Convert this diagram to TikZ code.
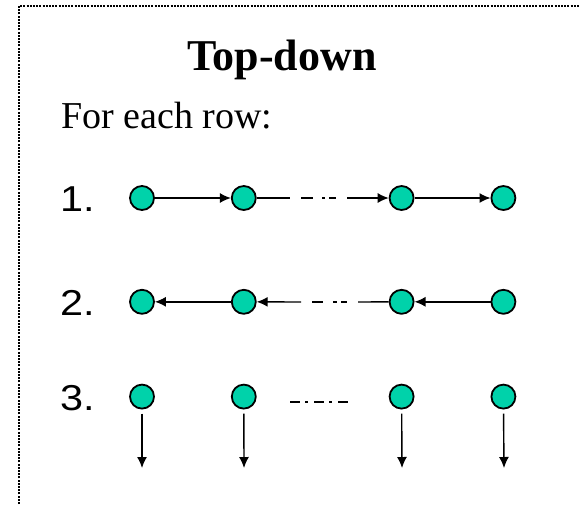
\documentclass[tikz,border=0pt]{standalone}
\usepackage{fontspec}
\setmainfont{Liberation Serif}
\setsansfont{Liberation Sans}
\newfontfamily\numberfont[FakeStretch=1.15]{Liberation Sans}
\usetikzlibrary{arrows.meta,positioning}
\definecolor{cellgreen}{RGB}{0,210,170}
\tikzstyle{cell} = [circle, draw, line width=1.8pt, fill=cellgreen,
    minimum size=24pt, inner sep=0pt]
\tikzstyle{step number} = [anchor=base west, inner sep=0pt,
    font=\numberfont\fontsize{36}{40}\selectfont]
\tikzstyle{link} = [draw, line width=1.4pt, -{Latex[length=11pt,width=10pt]}]
\tikzstyle{plain link} = [draw, line width=1.4pt]

\begin{document}
\begin{tikzpicture}[x=1pt, y=-1pt]
    \useasboundingbox (0,0) rectangle (580,504);
    % dotted frame
    \coordinate (frameBottom) at (19,504);
    \coordinate (frameCorner) at (19,6);
    \coordinate (frameRight) at (580,6);
    \path[draw, line width=2pt, dash pattern=on 2pt off 1.2pt]
        (frameBottom) -- (frameCorner) -- (frameRight);

    \node[anchor=base, inner sep=0pt, font=\bfseries\fontsize{44}{48}\selectfont]
        (title) at (282,70) {Top-down};
    \node[anchor=base west, inner sep=0pt, font=\fontsize{38}{42}\selectfont]
        (intro) at (61,128) {For each row:};

    \node[step number] (numOne) at (60,211) {1.};
    \node[step number] (numTwo) at (60,315) {2.};
    \node[step number] (numThree) at (60,410) {3.};

    % row 1
    \node[cell] (c11) at (142,198) {};
    \node[cell, right=76pt of c11] (c12) {};
    \node[cell, right=132pt of c12] (c13) {};
    \node[cell, right=76pt of c13] (c14) {};
    % row 2
    \node[cell, below=78pt of c11] (c21) {};
    \node[cell, right=76pt of c21] (c22) {};
    \node[cell, right=132pt of c22] (c23) {};
    \node[cell, right=76pt of c23] (c24) {};
    % row 3
    \node[cell, below=69pt of c21] (c31) {};
    \node[cell, right=76pt of c31] (c32) {};
    \node[cell, right=132pt of c32] (c33) {};
    \node[cell, right=76pt of c33] (c34) {};

    \coordinate (breakOneA) at (290,198);
    \coordinate (breakOneB) at (301,198);
    \coordinate (breakOneC) at (336,198);
    \coordinate (breakOneD) at (347,198);
    \coordinate (breakTwoA) at (301,302);
    \coordinate (breakTwoB) at (312,302);
    \coordinate (breakTwoC) at (347,302);
    \coordinate (breakTwoD) at (358,302);
    \coordinate (breakThreeA) at (290,402);
    \coordinate (breakThreeB) at (350,402);

    \coordinate (end1) at (142,468);
    \coordinate (end2) at (244,468);
    \coordinate (end3) at (402,468);
    \coordinate (end4) at (504,468);

    \path[link] (c11) -- (c12);
    \path[plain link] (c12) -- (breakOneA);
    \path[plain link, dash pattern=on 12pt off 9pt on 3pt off 4pt on 7pt off 20pt]
        (breakOneB) -- (breakOneC);
    \path[link] (breakOneD) -- (c13);
    \path[link] (c13) -- (c14);

    \path[link] (c22) -- (c21);
    \path[link] (breakTwoA) -- (c22);
    \path[plain link, dash pattern=on 11pt off 10pt on 4pt off 4pt on 6pt off 20pt]
        (breakTwoB) -- (breakTwoC);
    \path[plain link] (c23) -- (breakTwoD);
    \path[link] (c24) -- (c23);

    \path[plain link, dash pattern=on 10pt off 5pt on 3pt off 6pt]
        (breakThreeA) -- (breakThreeB);

    \path[link, shorten <=4pt] (c31) -- (end1);
    \path[link, shorten <=4pt] (c32) -- (end2);
    \path[link, shorten <=4pt] (c33) -- (end3);
    \path[link, shorten <=4pt] (c34) -- (end4);
\end{tikzpicture}
\end{document}
